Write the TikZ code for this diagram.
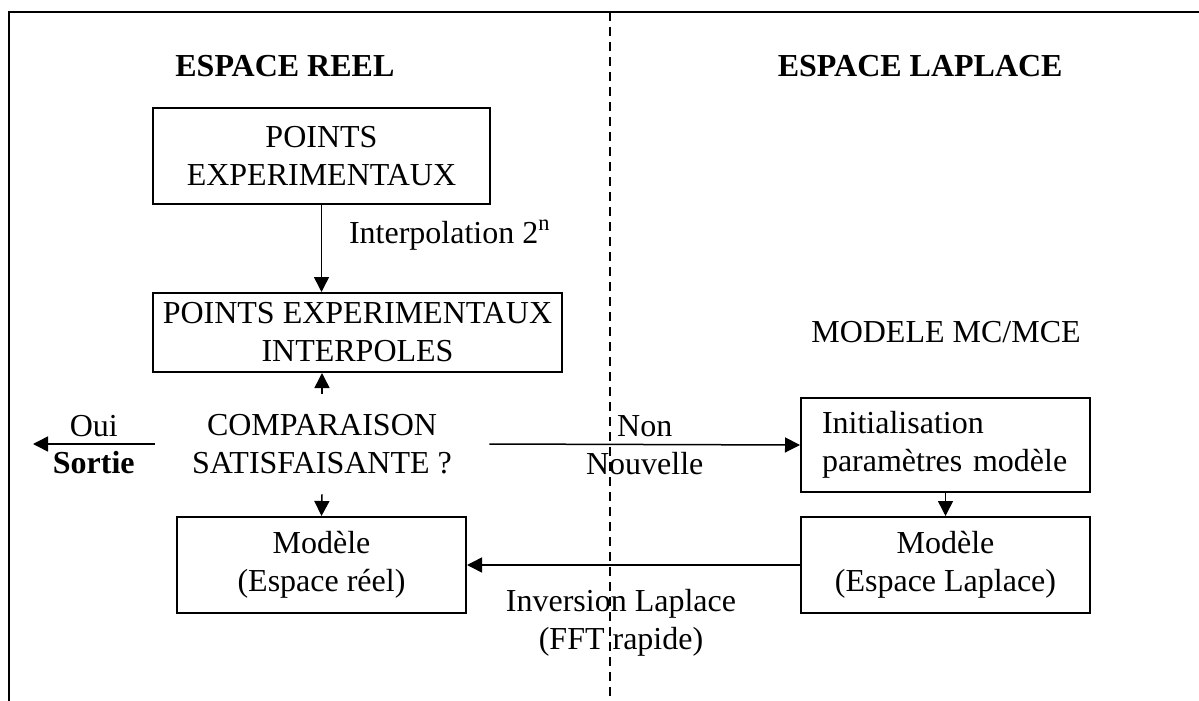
\documentclass[tikz,border=0pt]{standalone}
\usepackage{fontspec}
\setmainfont{Liberation Serif}
\usepackage{tikz}
\usetikzlibrary{
    arrows.meta,
    positioning
}

\begin{document}
\begin{tikzpicture}[
        x=0.5pt, y=-0.5pt,
        every node/.style={
            font=\fontsize{16}{19}\selectfont
        },
        title/.style={
            font=\fontsize{16}{19}\selectfont\bfseries,
            inner sep=0pt
        },
        block/.style={
            rectangle,
            draw,
            line width=1pt,
            align=center,
            inner sep=0pt,
            minimum width=144.5pt,
            minimum height=48pt
        },
        line/.style={
            -{Triangle[length=7.5pt,width=7.5pt]},
            line width=0.75pt
        }
    ]

    \useasboundingbox (0,0) rectangle (1199,701);

    % frame and split between the two spaces
    \draw[line width=1pt] (1199,12) -- (9,12) -- (9,701);
    \draw[line width=1pt, dash pattern=on 4.5pt off 3pt] (610,12) -- (610,701);

    \node[title, anchor=base west] (reel) at (175,77) {ESPACE REEL};
    \node[title, anchor=base east] (laplace) at (1063,77) {ESPACE LAPLACE};

    \node[block, minimum width=168.5pt] (points) at (321.5,156) {POINTS\\EXPERIMENTAUX};
    \node[block, minimum width=204.5pt, minimum height=39.5pt] (interp) at (357.5,332.5) {POINTS EXPERIMENTAUX\\INTERPOLES};
    \node (modmc) at (946,332) {MODELE MC/MCE};

    \node[minimum width=167pt, minimum height=50pt, inner sep=0pt, align=center] (comp) at (322,444) {COMPARAISON\\SATISFAISANTE ?};
    \node[block, minimum height=47pt, align=left, text width=123.5pt] (init) at (945.5,445) {Initialisation\\paramètres modèle};

    \node[block] (modreel) at (321.5,565) {Modèle\\(Espace réel)};
    \node[block] (modlap) at (945.5,565) {Modèle\\(Espace Laplace)};

    \coordinate (sortie) at (33,444);

    \draw[line] (points.south) -- (points.south |- interp.north);
    \node[anchor=base west] (interpol) at (342,243) {Interpolation 2\textsuperscript{n}};

    \draw[line] (comp.north) -- (comp.north |- interp.south);
    \draw[line] (comp.south) -- (modreel.north);
    \draw[line] (comp.west) -- (sortie)
        node[midway, above] {Oui}
        node[midway, below] {\textbf{Sortie}};
    \draw[line] (comp.east) -- (init.west)
        node[midway, above] {Non}
        node[midway, below] {Nouvelle};

    \draw[line] (init.south) -- (modlap.north);
    \draw[line] (modlap.west) -- (modreel.east);
    \node[align=center] (inversion) at (621,623) {Inversion Laplace\\(FFT rapide)};

\end{tikzpicture}
\end{document}
